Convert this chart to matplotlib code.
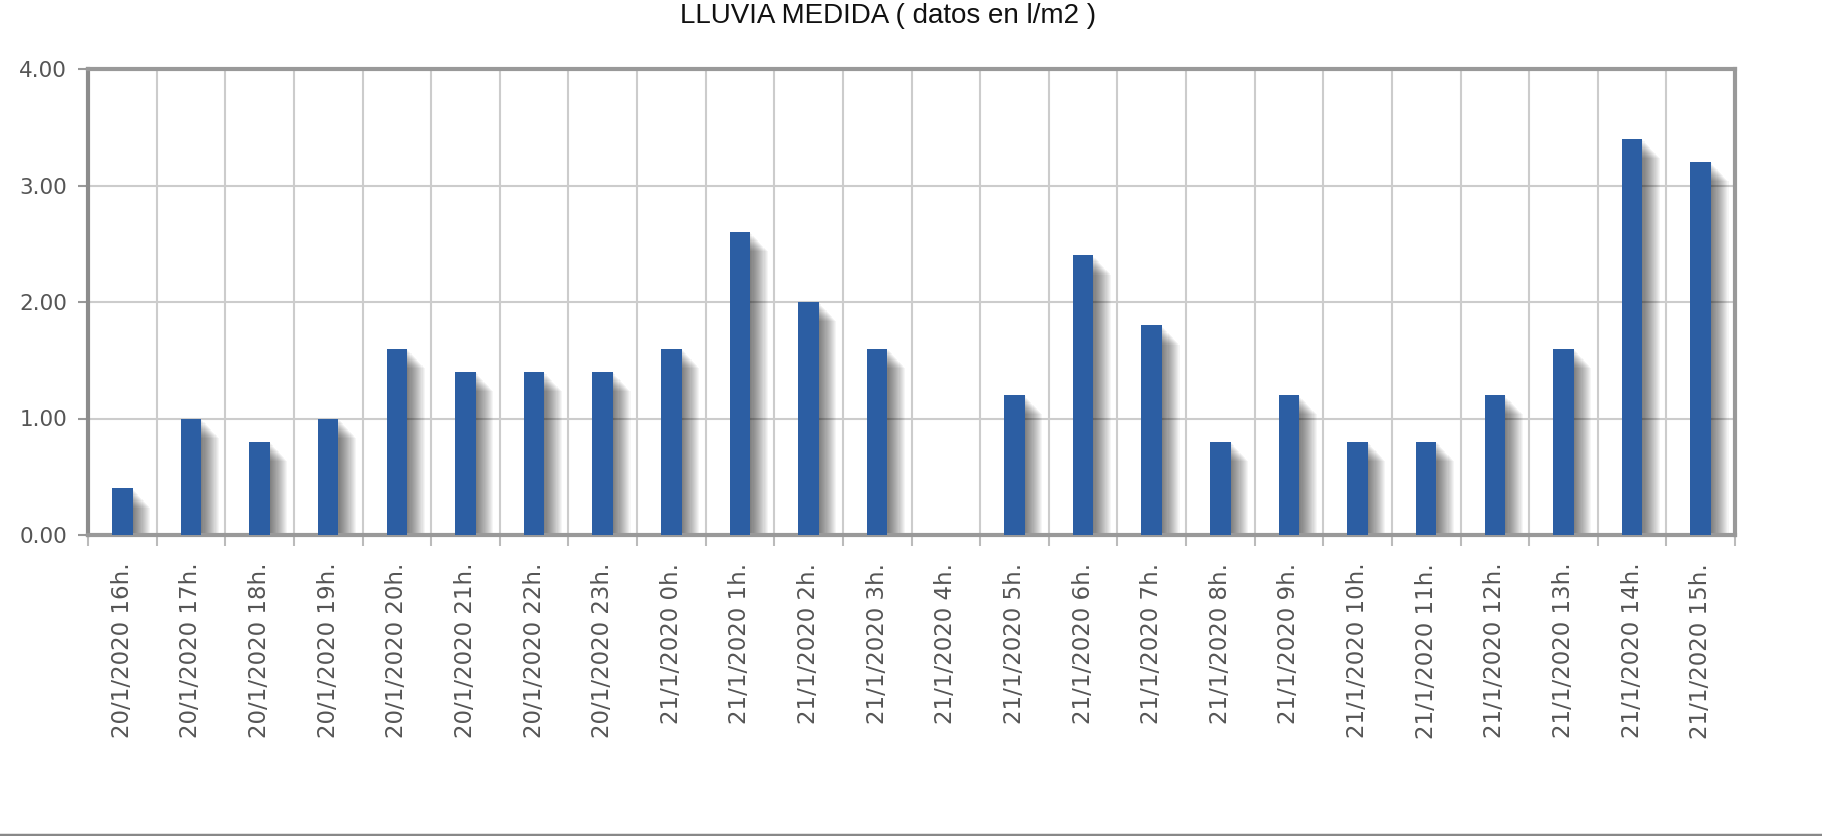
import matplotlib

matplotlib.use("Agg")
import matplotlib.pyplot as plt
import matplotlib.transforms as mtransforms
import numpy as np

hours = ["20/1/2020 16h.", "20/1/2020 17h.", "20/1/2020 18h.", "20/1/2020 19h.",
         "20/1/2020 20h.", "20/1/2020 21h.", "20/1/2020 22h.", "20/1/2020 23h.",
         "21/1/2020 0h.", "21/1/2020 1h.", "21/1/2020 2h.", "21/1/2020 3h.",
         "21/1/2020 4h.", "21/1/2020 5h.", "21/1/2020 6h.", "21/1/2020 7h.",
         "21/1/2020 8h.", "21/1/2020 9h.", "21/1/2020 10h.", "21/1/2020 11h.",
         "21/1/2020 12h.", "21/1/2020 13h.", "21/1/2020 14h.", "21/1/2020 15h."]
rain = [0.4, 1.0, 0.8, 1.0, 1.6, 1.4, 1.4, 1.4, 1.6, 2.6, 2.0, 1.6,
        0.0, 1.2, 2.4, 1.8, 0.8, 1.2, 0.8, 0.8, 1.2, 1.6, 3.4, 3.2]
y_ticks = [0, 1, 2, 3, 4]

plt.rcParams["font.family"] = ["DejaVu Sans"]
fig = plt.figure(figsize=(18.22, 8.36), dpi=100)
ax = fig.add_axes([88 / 1822, 301 / 836, (1735 - 88) / 1822, 466 / 836])

x = np.arange(len(rain))
width = 0.3

# soft drop shadow: stacked translucent copies shifted right/down
for k in range(1, 17):
    tr = mtransforms.offset_copy(ax.transData, fig=fig, x=k * 1.1, y=-k * 1.2, units="dots")
    ax.bar(x, rain, width=width, color="black", alpha=0.04, transform=tr, zorder=2, linewidth=0)
ax.bar(x, rain, width=width, color="#2c5ea3", zorder=3, linewidth=0)

ax.set_xlim(-0.5, len(rain) - 0.5)
ax.set_ylim(0, 4)
ax.set_yticks(y_ticks)
ax.set_yticklabels([f"{v:.2f}" for v in y_ticks])
ax.set_xticks(x)
ax.set_xticklabels(hours, rotation=90)
ax.set_xticks(np.arange(len(rain) + 1) - 0.5, minor=True)

ax.grid(True, axis="y", color="#cccccc", linewidth=1.5, zorder=0)
ax.grid(True, axis="x", which="minor", color="#cccccc", linewidth=1.5, zorder=0)
ax.set_axisbelow(True)

ax.tick_params(axis="x", which="major", length=0, pad=20, labelsize=16.5, labelcolor="#555555")
ax.tick_params(axis="x", which="minor", length=8, width=1.5, color="#bbbbbb", direction="out")
ax.tick_params(axis="y", length=7, width=1.5, color="#999999", pad=8, labelsize=15.5, labelcolor="#555555")

for side in ax.spines.values():
    side.set_color("#999999")
    side.set_linewidth(3)
ax.spines["left"].set_color("#8c8c8c")

fig.text(888 / 1822, 1 - 23 / 836, "LLUVIA MEDIDA ( datos en l/m2 )",
         ha="center", va="baseline", fontsize=20, color="#111111",
         family="Liberation Sans")
fig.add_artist(plt.Line2D([0, 1], [1 / 836, 1 / 836], color="#888888", linewidth=2.5))

fig.savefig("out.png", dpi=100)
